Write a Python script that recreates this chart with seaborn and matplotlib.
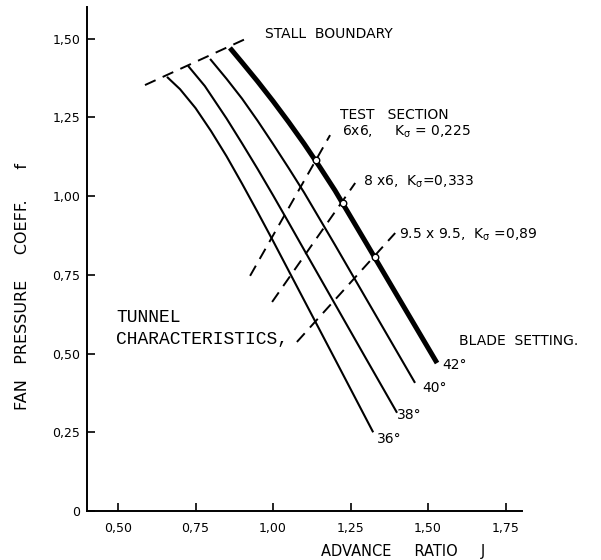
import matplotlib
matplotlib.use("Agg")
import matplotlib.pyplot as plt
import seaborn as sns
import pandas as pd

sns.set_style("ticks")
plt.rcParams['font.family'] = ['DejaVu Sans']
plt.rcParams['text.color'] = 'black'
plt.rcParams['axes.labelcolor'] = 'black'

# ---- data ----
blade_36_J = [0.658, 0.70, 0.75, 0.80, 0.85, 0.90, 0.95, 1.00, 1.10, 1.20, 1.323]
blade_36_f = [1.379, 1.340, 1.280, 1.207, 1.127, 1.040, 0.950, 0.858, 0.670, 0.482, 0.250]

blade_38_J = [0.726, 0.78, 0.85, 0.90, 0.95, 1.00, 1.05, 1.10, 1.20, 1.30, 1.400]
blade_38_f = [1.414, 1.350, 1.247, 1.168, 1.087, 1.003, 0.917, 0.830, 0.657, 0.484, 0.312]

blade_40_J = [0.797, 0.85, 0.90, 0.95, 1.00, 1.05, 1.10, 1.20, 1.30, 1.458]
blade_40_f = [1.436, 1.373, 1.310, 1.240, 1.166, 1.090, 1.012, 0.845, 0.675, 0.407]

blade_42_J = [0.861, 0.90, 0.95, 1.00, 1.05, 1.10, 1.15, 1.20, 1.30, 1.40, 1.529]
blade_42_f = [1.471, 1.425, 1.365, 1.302, 1.236, 1.167, 1.094, 1.018, 0.852, 0.685, 0.470]

stall_J = [0.587, 0.919]
stall_f = [1.353, 1.503]

tunnel_6x6_J = [0.926, 1.184]
tunnel_6x6_f = [0.747, 1.194]
tunnel_8x6_J = [0.997, 1.265]
tunnel_8x6_f = [0.664, 1.042]
tunnel_95_J = [1.077, 1.394]
tunnel_95_f = [0.537, 0.883]

op_J = [1.138, 1.226, 1.329]
op_f = [1.115, 0.978, 0.807]

x_ticks = [0.50, 0.75, 1.00, 1.25, 1.50, 1.75]
x_tick_labels = ["0,50", "0,75", "1,00", "1,25", "1,50", "1,75"]
y_ticks = [0, 0.25, 0.50, 0.75, 1.00, 1.25, 1.50]
y_tick_labels = ["0", "0,25", "0,50", "0,75", "1,00", "1,25", "1,50"]

# ---- figure ----
fig = plt.figure(figsize=(6.01, 5.60), dpi=100)
ax = fig.add_axes([87 / 601, 1 - 511 / 560, 435 / 601, 504 / 560])

blades = [(blade_36_J, blade_36_f, 1.5), (blade_38_J, blade_38_f, 1.5),
          (blade_40_J, blade_40_f, 1.5), (blade_42_J, blade_42_f, 3.6)]
for J, f, lw in blades:
    sns.lineplot(x=J, y=f, ax=ax, color="black", linewidth=lw,
                 sort=False, estimator=None, solid_capstyle="butt",
                 solid_joinstyle="round")

dash = (0, (6, 4))
for J, f in [(stall_J, stall_f), (tunnel_6x6_J, tunnel_6x6_f),
             (tunnel_8x6_J, tunnel_8x6_f), (tunnel_95_J, tunnel_95_f)]:
    sns.lineplot(x=J, y=f, ax=ax, color="black", linewidth=1.4,
                 sort=False, estimator=None, linestyle=dash)

sns.scatterplot(x=op_J, y=op_f, ax=ax, s=22, marker="o",
                facecolor="white", edgecolor="black", linewidth=1.0, zorder=5)

ax.set_xlim(0.40, 1.803)
ax.set_ylim(0, 1.601)
ax.set_xticks(x_ticks)
ax.set_xticklabels(x_tick_labels)
ax.set_yticks(y_ticks)
ax.set_yticklabels(y_tick_labels)
ax.tick_params(axis="both", direction="in", length=6, width=1.2,
               labelsize=9, color="black", labelcolor="black")
ax.tick_params(axis="y", pad=5)
ax.tick_params(axis="x", pad=8)
for s in ["top", "right"]:
    ax.spines[s].set_visible(False)
for s in ["left", "bottom"]:
    ax.spines[s].set_linewidth(1.4)
    ax.spines[s].set_color("black")

ax.set_xlabel("ADVANCE     RATIO     J", fontsize=10.5, color="black")
ax.xaxis.label.set_va("center")
ax.xaxis.set_label_coords(0.726, -0.081)
ax.set_ylabel("FAN   PRESSURE     COEFF.      f", fontsize=11.5, color="black")
ax.yaxis.label.set_va("center")
ax.yaxis.set_label_coords(-0.149, 0.446)

# ---- annotations ----
kw = dict(ha="left", va="center", color="black")
ax.text(0.974, 1.515, "STALL  BOUNDARY", fontsize=10, **kw)
ax.text(1.216, 1.258, "TEST   SECTION", fontsize=10, **kw)
ax.text(1.223, 1.204, r"6x6,     $\mathregular{K_\sigma}$ = 0,225", fontsize=10, **kw)
ax.text(1.290, 1.045, r"8 x6,  $\mathregular{K_\sigma}$=0,333", fontsize=10, **kw)
ax.text(1.406, 0.877, r"9.5 x 9.5,  $\mathregular{K_\sigma}$ =0,89", fontsize=10, **kw)
ax.text(0.494, 0.616, "TUNNEL", fontsize=13, family="Liberation Mono", **kw)
ax.text(0.494, 0.546, "CHARACTERISTICS,", fontsize=13, family="Liberation Mono", **kw)
ax.text(1.600, 0.540, "BLADE  SETTING.", fontsize=10, **kw)
ax.text(1.545, 0.464, "42°", fontsize=10, **kw)
ax.text(1.481, 0.391, "40°", fontsize=10, **kw)
ax.text(1.400, 0.305, "38°", fontsize=10, **kw)
ax.text(1.335, 0.229, "36°", fontsize=10, **kw)

fig.savefig("out.png", dpi=100, facecolor="white")
